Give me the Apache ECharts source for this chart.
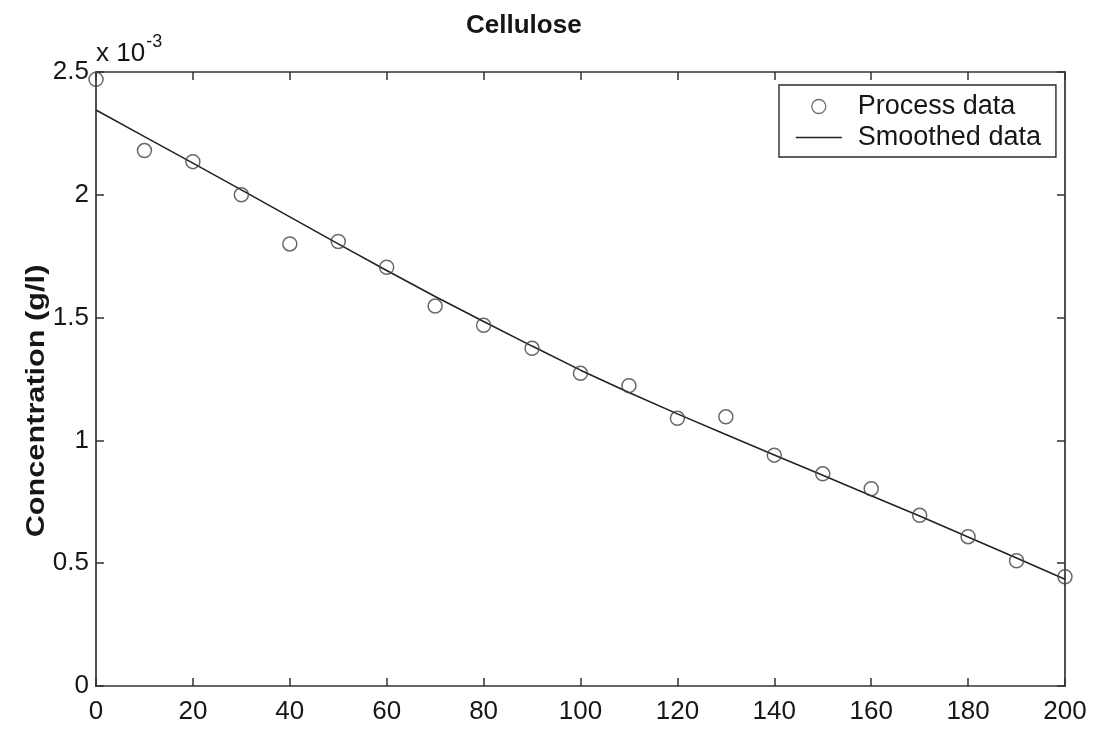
<!DOCTYPE html>
<html>
<head>
<meta charset="utf-8">
<title>Cellulose</title>
<script src="https://cdn.jsdelivr.net/npm/echarts@6/dist/echarts.min.js"></script>
<style>
  html, body { margin: 0; padding: 0; background: #fff; }
  #chart { width: 1095px; height: 732px; }
</style>
</head>
<body>
<div id="chart"></div>
<script>
// Sampling times
const time = [0, 10, 20, 30, 40, 50, 60, 70, 80, 90, 100, 110, 120, 130, 140, 150, 160, 170, 180, 190, 200];
// Measured cellulose concentration, in units of 10^-3 g/l
const processData = [2.47, 2.18, 2.135, 2.0, 1.80, 1.81, 1.705, 1.547, 1.469, 1.375, 1.273, 1.223, 1.09, 1.096, 0.94, 0.864, 0.803, 0.695, 0.608, 0.51, 0.445];
// Smoothed concentration, in units of 10^-3 g/l
const smoothedData = [2.345, 2.237, 2.129, 2.02, 1.91, 1.80, 1.692, 1.586, 1.484, 1.384, 1.286, 1.195, 1.108, 1.024, 0.941, 0.858, 0.775, 0.692, 0.607, 0.521, 0.435];
// Axis ticks
const xTicks = [0, 20, 40, 60, 80, 100, 120, 140, 160, 180, 200];
const yTicks = [0, 0.5, 1, 1.5, 2, 2.5];

const FONT = '"Liberation Sans", Arial, Helvetica, sans-serif';
const INK = '#161616';
const AXIS = '#333';

const chart = echarts.init(document.getElementById('chart'), null, { renderer: 'canvas' });

const xMin = xTicks[0], xMax = xTicks[xTicks.length - 1];
const xStep = xTicks[1] - xTicks[0];
const yMin = yTicks[0], yMax = yTicks[yTicks.length - 1];
const yStep = yTicks[1] - yTicks[0];

const tickStyle = { show: true, inside: true, length: 8, lineStyle: { color: AXIS, width: 1.5 } };
const lineStyle = { show: true, onZero: false, lineStyle: { color: AXIS, width: 1.7 } };

chart.setOption({
  backgroundColor: '#ffffff',
  animation: false,
  title: {
    text: 'Cellulose',
    left: 461,
    top: 8,
    textStyle: { fontFamily: FONT, fontSize: 26, fontWeight: 'bold', color: INK }
  },
  grid: { left: 96, right: 30, top: 72, bottom: 46, containLabel: false },
  legend: {
    orient: 'vertical',
    left: 779,
    top: 85,
    align: 'left',
    itemWidth: 46,
    itemHeight: 14,
    itemGap: 4,
    padding: [8, 15, 6, 16],
    borderColor: '#2a2a2a',
    borderWidth: 1.4,
    backgroundColor: '#fff',
    textStyle: { fontFamily: FONT, fontSize: 27, color: INK, padding: [0, 0, 0, 11] },
    data: [
      { name: 'Process data', icon: 'circle', itemStyle: { color: 'transparent', borderColor: '#4a4a4a', borderWidth: 1.3 } },
      { name: 'Smoothed data', itemStyle: { opacity: 0 }, lineStyle: { color: '#222', width: 1.6 } }
    ]
  },
  xAxis: [
    {
      type: 'value', position: 'bottom', min: xMin, max: xMax, interval: xStep,
      axisLine: lineStyle, axisTick: tickStyle, splitLine: { show: false },
      axisLabel: { margin: 13, fontFamily: FONT, fontSize: 26, color: INK }
    },
    {
      type: 'value', position: 'top', min: xMin, max: xMax, interval: xStep,
      axisLine: lineStyle, axisTick: tickStyle, splitLine: { show: false },
      axisLabel: { show: false }
    }
  ],
  yAxis: [
    {
      type: 'value', position: 'left', min: yMin, max: yMax, interval: yStep,
      axisLine: lineStyle, axisTick: tickStyle, splitLine: { show: false },
      axisLabel: { margin: 7, fontFamily: FONT, fontSize: 26, color: INK }
    },
    {
      type: 'value', position: 'right', min: yMin, max: yMax, interval: yStep,
      axisLine: lineStyle, axisTick: tickStyle, splitLine: { show: false },
      axisLabel: { show: false }
    }
  ],
  graphic: [
    {
      type: 'text',
      left: 96,
      top: 33,
      style: {
        text: '{b|x 10}{s|-3}',
        rich: {
          b: { fontFamily: FONT, fontSize: 26, fill: INK, verticalAlign: 'bottom', padding: [8, 0, 0, 0] },
          s: { fontFamily: FONT, fontSize: 18, fill: INK, verticalAlign: 'top', padding: [0, 0, 12, 1] }
        }
      }
    },
    {
      type: 'text',
      x: 37,
      y: 401,
      rotation: Math.PI / 2,
      scaleX: 1.18,
      style: {
        text: 'Concentration (g/l)',
        fontFamily: FONT,
        fontSize: 26,
        fontWeight: 'bold',
        fill: INK,
        align: 'center',
        verticalAlign: 'middle'
      }
    }
  ],
  series: [
    {
      name: 'Process data',
      type: 'scatter',
      xAxisIndex: 0,
      yAxisIndex: 0,
      symbol: 'circle',
      symbolSize: 14,
      itemStyle: { color: 'transparent', borderColor: '#444', borderWidth: 1.5 },
      data: time.map((t, i) => [t, processData[i]]),
      z: 3
    },
    {
      name: 'Smoothed data',
      type: 'line',
      xAxisIndex: 0,
      yAxisIndex: 0,
      showSymbol: false,
      lineStyle: { color: '#222', width: 1.6 },
      itemStyle: { color: '#222' },
      data: time.map((t, i) => [t, smoothedData[i]]),
      z: 2
    }
  ]
});
</script>
</body>
</html>
